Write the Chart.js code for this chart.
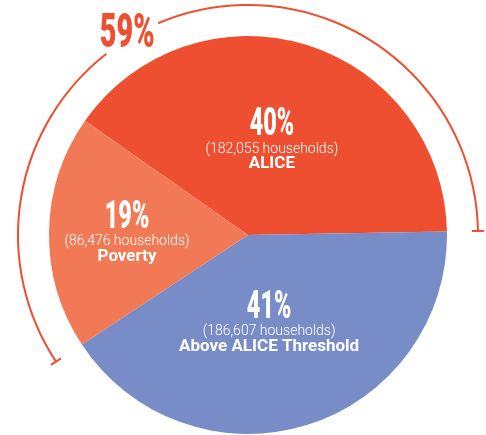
<!DOCTYPE html>
<html>
<head>
<meta charset="utf-8">
<script src="https://cdn.jsdelivr.net/npm/chart.js@4/dist/chart.umd.min.js"></script>
<style>
  body { margin: 0; background: #ffffff; }
  canvas { display: block; }
</style>
</head>
<body>
<canvas id="theChart" width="486" height="435"></canvas>
<script>
// data, order is clockwise starting at the ALICE slice
var labels = ['ALICE', 'Above ALICE Threshold', 'Poverty'];
var households = [182055, 186607, 86476];
var colors = ['#EF4F31', '#788CC8', '#F27955'];

// slices that the outer bracket wraps round (ALICE + Poverty)
var bracketSlices = [0, 2];

var total = households.reduce(function (a, b) { return a + b; }, 0);

function pct(v) {
  return Math.round(v / total * 100);
}

function fmt(n) {
  return n.toString().replace(/\B(?=(\d{3})+(?!\d))/g, ',');
}

// draws a tall condensed-looking percent by squeezing Roboto
function bigText(ctx, text, x, y, size, color) {
  ctx.save();
  ctx.translate(x, y);
  ctx.scale(0.6, 1);
  ctx.font = '900 ' + size + 'px Roboto';
  ctx.fillStyle = color;
  ctx.textAlign = 'center';
  ctx.textBaseline = 'alphabetic';
  ctx.fillText(text, 0, 0);
  ctx.restore();
}

// labels inside the slices and the bracket with its percent
var aliceLabels = {
  id: 'aliceLabels',
  afterDatasetsDraw: function (chart, args, opts) {
    var ctx = chart.ctx;
    var arcs = chart.getDatasetMeta(0).data;
    var cx = arcs[0].x;
    var cy = arcs[0].y;
    var r = arcs[0].outerRadius;

    // text block in each slice, offset from the centre in units of the radius
    for (var i = 0; i < arcs.length; i++) {
      var ax = cx + opts.offsets[i][0] * r;
      var ay = cy + opts.offsets[i][1] * r;
      bigText(ctx, pct(households[i]) + '%', ax, ay - 14, 39, '#ffffff');

      ctx.fillStyle = '#ffffff';
      ctx.textAlign = 'center';
      ctx.textBaseline = 'middle';
      ctx.font = '300 14px Roboto';
      ctx.fillText('(' + fmt(households[i]) + ' households)', ax, ay);
      ctx.font = 'bold 17px Roboto';
      ctx.fillText(labels[i], ax, ay + 15);
    }

    // outer bracket from the start of Poverty round to the end of ALICE
    var start = arcs[bracketSlices[1]].startAngle;
    var end = arcs[bracketSlices[0]].endAngle + Math.PI * 2;
    var R = r + opts.bracketGap;
    var gapMid = opts.gapAngle;
    var gapHalf = opts.gapHalf;

    ctx.save();
    ctx.strokeStyle = colors[0];
    ctx.lineWidth = 2;
    ctx.beginPath();
    ctx.arc(cx, cy, R, start, gapMid - gapHalf);
    ctx.stroke();
    ctx.beginPath();
    ctx.arc(cx, cy, R, gapMid + gapHalf, end);
    ctx.stroke();

    // small radial ticks at both ends
    [start, end].forEach(function (a) {
      ctx.beginPath();
      ctx.moveTo(cx + Math.cos(a) * (R - 6), cy + Math.sin(a) * (R - 6));
      ctx.lineTo(cx + Math.cos(a) * (R + 6), cy + Math.sin(a) * (R + 6));
      ctx.stroke();
    });
    ctx.restore();

    var sum = 0;
    bracketSlices.forEach(function (k) { sum += pct(households[k]); });
    var lx = cx + Math.cos(gapMid) * (R + 8);
    var ly = cy + Math.sin(gapMid) * (R + 8);
    bigText(ctx, sum + '%', lx, ly + 17, 48, colors[0]);
  }
};

var myChart = document.getElementById('theChart').getContext('2d');
var chart = new Chart(myChart, {
  type: 'pie',
  data: {
    labels: labels,
    datasets: [{
      data: households,
      backgroundColor: colors,
      borderWidth: 0
    }]
  },
  options: {
    responsive: false,
    animation: false,
    rotation: -55,
    layout: {
      padding: { left: 49, right: 39, top: 36, bottom: 1 }
    },
    plugins: {
      legend: { display: false },
      tooltip: { enabled: false },
      aliceLabels: {
        offsets: [[0.12, -0.432], [0.106, 0.487], [-0.608, 0.035]],
        bracketGap: 31,
        gapAngle: (239.5 / 180) * Math.PI,
        gapHalf: (7.5 / 180) * Math.PI
      }
    }
  },
  plugins: [aliceLabels]
});
</script>
</body>
</html>
